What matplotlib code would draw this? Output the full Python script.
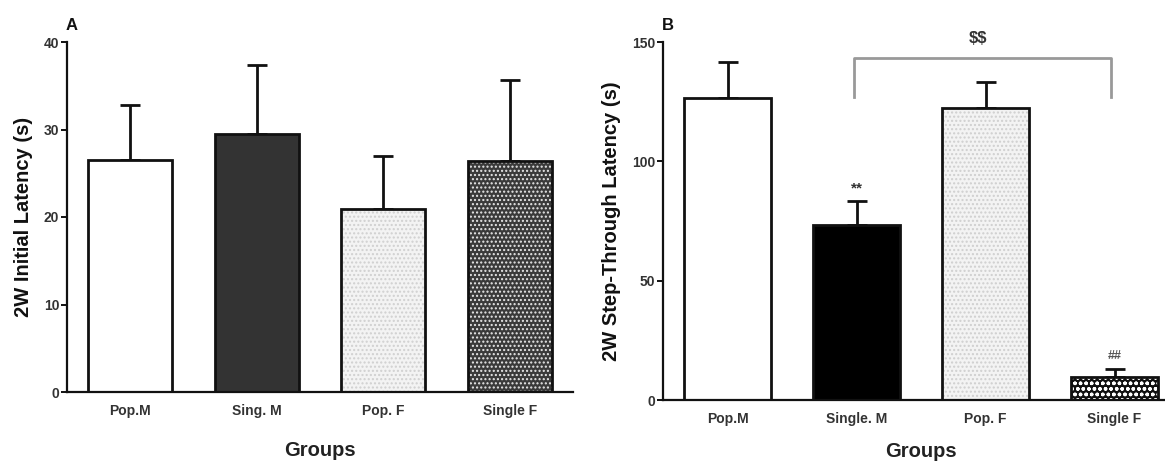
import matplotlib
matplotlib.use("Agg")
import matplotlib.pyplot as plt

plt.rcParams['font.family'] = ['Liberation Sans', 'DejaVu Sans']
plt.rcParams['hatch.linewidth'] = 1.0

# ---- data ----
groups_a = ["Pop.M", "Sing. M", "Pop. F", "Single F"]
latency_a = [26.5, 29.5, 20.9, 26.4]
sem_a = [6.3, 7.9, 6.1, 9.3]

groups_b = ["Pop.M", "Single. M", "Pop. F", "Single F"]
latency_b = [126.5, 73.3, 122.3, 9.6]
sem_b = [15.1, 10.1, 10.9, 3.4]

yticks_a = [0, 10, 20, 30, 40]
yticks_b = [0, 50, 100, 150]

# styles per bar: (facecolor, hatch, hatchcolor)
styles_a = [("white", None, None), ("#333333", None, None),
            ("#f3f3f3", "....", "#d0d0d0"), ("#3a3a3a", "....", "#e8e8e8")]
styles_b = [("white", None, None), ("black", None, None),
            ("#f3f3f3", "....", "#cfcfcf"), ("#111111", "ooo", "white")]

W, H = 1165, 462
fig = plt.figure(figsize=(W / 100, H / 100), dpi=100)

ax_a = fig.add_axes([67 / W, 1 - 392 / H, 506 / W, 350 / H])
ax_b = fig.add_axes([663 / W, 1 - 400 / H, 516 / W, 358 / H])


def draw(ax, groups, vals, errs, styles, yticks, ylabel, xpad):
    x = list(range(len(groups)))
    width = 0.667
    for xi, v, (fc, hatch, hc) in zip(x, vals, styles):
        ax.bar(xi, v, width=width, color=fc, hatch=hatch, edgecolor=hc if hatch else fc,
               linewidth=0, zorder=2)
        ax.bar(xi, v, width=width, fill=False, edgecolor="#111111", linewidth=2.0, zorder=3)
    ax.errorbar(x, vals, yerr=[[0] * len(errs), errs], fmt="none", ecolor="#111111",
                elinewidth=2.0, capsize=7.5, capthick=2.0, zorder=1)
    ax.set_xlim(-0.5, 3.5)
    ax.set_ylim(0, yticks[-1])
    ax.set_yticks(yticks)
    ax.set_xticks(x)
    ax.set_xticklabels(groups)
    for s in ["top", "right"]:
        ax.spines[s].set_visible(False)
    for s in ["left", "bottom"]:
        ax.spines[s].set_linewidth(1.6)
        ax.spines[s].set_color("#111111")
    ax.tick_params(axis="y", length=4.5, width=1.4, color="#111111", pad=1,
                   labelsize=10, labelcolor="#333333")
    ax.tick_params(axis="x", length=0, pad=9, labelsize=10, labelcolor="#333333")
    for lab in ax.get_xticklabels() + ax.get_yticklabels():
        lab.set_fontweight("bold")
    ax.set_ylabel(ylabel, fontsize=14.5, fontweight="bold", color="#111111", labelpad=8)
    ax.set_xlabel("Groups", fontsize=14.5, fontweight="bold", color="#222222", labelpad=xpad)
    ax.patch.set_alpha(0)


draw(ax_a, groups_a, latency_a, sem_a, styles_a, yticks_a, "2W Initial Latency (s)", 16)
draw(ax_b, groups_b, latency_b, sem_b, styles_b, yticks_b, "2W Step-Through Latency (s)", 11)

# significance annotations on panel B
ax_b.plot([0.98, 0.98, 2.97, 2.97], [127, 143.3, 143.3, 127], color="#999999",
          linewidth=2.0, clip_on=False, zorder=4)
ax_b.text(1.94, 148.5, r"\$\$", ha="center", va="bottom", fontsize=12, fontweight="bold",
          color="#333333")
ax_b.text(1, latency_b[1] + sem_b[1] + 2.5, "**", ha="center", va="bottom", fontsize=11,
          fontweight="bold", color="#333333")
ax_b.text(3, latency_b[3] + sem_b[3] + 3, "##", ha="center", va="bottom", fontsize=9,
          fontweight="bold", color="#555555")

fig.text(72 / W, 1 - 25 / H, "A", ha="center", va="center", fontsize=12,
         fontweight="bold", color="#111111")
fig.text(668 / W, 1 - 25 / H, "B", ha="center", va="center", fontsize=12,
         fontweight="bold", color="#111111")

fig.savefig("out.png", dpi=100, facecolor="white")
